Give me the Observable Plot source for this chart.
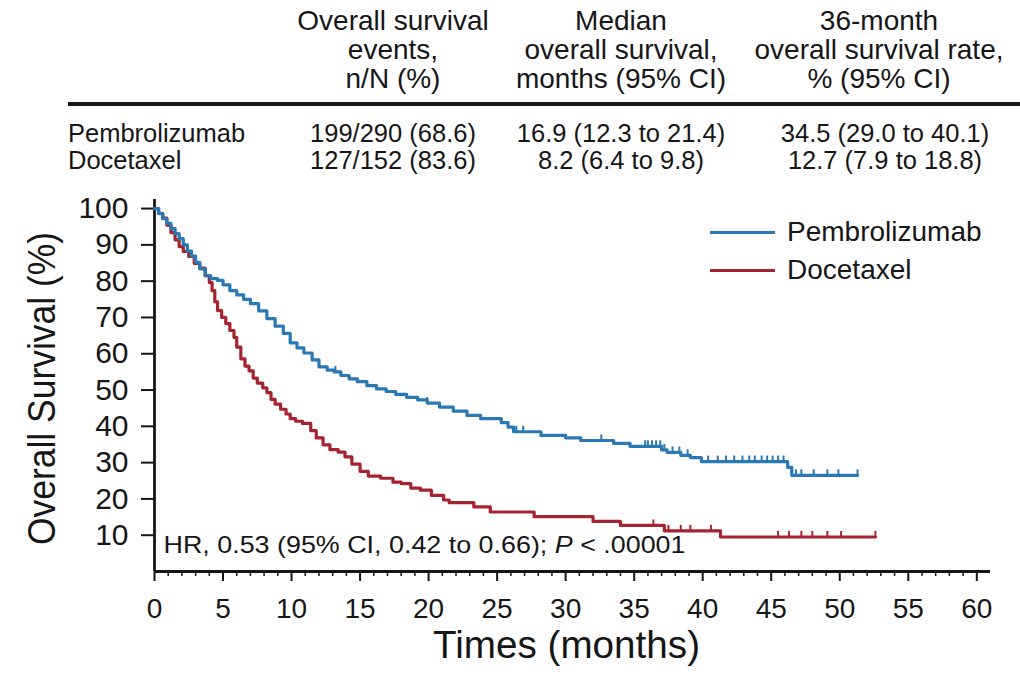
<!DOCTYPE html>
<html>
<head>
<meta charset="utf-8">
<script src="https://cdn.jsdelivr.net/npm/d3@7"></script>
<script src="https://cdn.jsdelivr.net/npm/@observablehq/plot@0.6"></script>
<style>
  html, body { margin: 0; padding: 0; background: #fff; }
  #wrap { position: relative; width: 1020px; height: 678px; overflow: hidden;
          font-family: "Liberation Sans", Arial, sans-serif; color: #161616; }
  #table { position: relative; height: 185px; }
  .hd { position: absolute; top: 6px; transform: translateX(-50%); text-align: center;
        font-size: 28px; line-height: 29px; white-space: nowrap; }
  .rule { position: absolute; left: 68px; right: 0; top: 102px; height: 4px; background: #161616; }
  .col { position: absolute; top: 120px; font-size: 25.5px; line-height: 27px; white-space: nowrap; }
  .col.c { transform: translateX(-50%); text-align: center; }
  #legend { position: absolute; left: 710px; top: 213px; font-size: 28px; }
  .lg { display: flex; align-items: center; height: 38px; }
  .sw { width: 65px; height: 3px; margin-right: 12px; }
</style>
</head>
<body>
<div id="wrap">
  <div id="table"></div>
  <div id="chart"></div>
  <div id="legend"></div>
</div>
<script>
// Summary table
const columnHeads = [
  ["Overall survival", "events,", "n/N (%)"],
  ["Median", "overall survival,", "months (95% CI)"],
  ["36-month", "overall survival rate,", "% (95% CI)"]
];
const arms = ["Pembrolizumab", "Docetaxel"];
const eventCounts = ["199/290 (68.6)", "127/152 (83.6)"];
const medianOS = ["16.9 (12.3 to 21.4)", "8.2 (6.4 to 9.8)"];
const rate36 = ["34.5 (29.0 to 40.1)", "12.7 (7.9 to 18.8)"];

// Kaplan-Meier step points (months, % surviving)
const pembroTime = [0,0.3,0.6,0.9,1.2,1.5,1.8,2.1,2.4,2.7,3.0,3.3,3.7,4.1,4.6,5.0,5.5,6.0,6.5,7.0,
  7.6,8.2,8.8,9.4,9.9,10.4,10.9,11.5,12.0,12.6,13.1,13.6,14.2,14.8,15.5,16.2,16.9,17.6,18.4,19.2,
  19.9,20.8,21.8,22.8,23.8,25.3,25.8,26.2,28.2,30.0,31.1,33.5,34.7,37.0,37.4,38.4,39.1,39.9,46.2,46.5,51.3];
const pembroSurv = [100,98.6,97.2,95.9,94.5,93.1,91.7,90.0,88.3,86.9,85.2,83.4,81.5,80.7,80.2,79.0,77.4,76.2,75.0,73.8,
  71.8,69.7,67.6,65.6,63.0,61.6,60.2,58.3,56.4,55.5,55.0,54.0,53.1,52.3,51.2,50.3,49.6,48.8,48.0,47.3,
  46.4,45.3,44.2,43.0,42.1,41.0,39.8,38.5,37.5,36.8,36.1,35.3,34.5,33.5,32.8,32.0,31.4,30.3,28.7,26.5,26.5];
const pembroCensored = [1.5,5.5,13.2,19.9,26.4,26.9,32.6,35.8,36.0,36.3,36.6,36.9,37.2,37.8,38.3,38.9,
  40.4,41.1,41.7,42.3,42.9,43.4,43.8,44.3,44.7,45.1,45.5,45.9,46.8,47.2,48.1,49.1,49.9,51.3];

const docetTime = [0,0.3,0.6,0.9,1.2,1.5,1.8,2.1,2.5,2.9,3.3,3.7,4.0,4.2,4.4,4.6,4.9,5.2,5.5,5.8,
  6.0,6.3,6.6,6.9,7.2,7.5,7.9,8.2,8.5,8.8,9.2,9.6,9.9,10.3,10.8,11.4,11.8,12.3,12.8,13.4,
  13.9,14.4,15.0,15.6,16.5,17.4,18.0,18.7,19.4,20.2,21.1,21.5,23.3,24.5,27.7,32.0,34.0,37.2,41.3,52.6];
const docetSurv = [100,98.7,97.4,95.4,93.4,91.4,89.5,88.2,86.8,84.9,83.6,81.5,79.6,77.4,74.3,71.9,70.0,68.3,66.4,64.5,
  61.8,58.6,56.6,55.3,53.3,51.9,50.6,49.3,47.4,46.1,44.7,43.4,42.1,41.4,40.8,38.8,36.8,34.9,33.6,32.9,
  31.6,29.6,27.6,26.3,25.7,24.6,24.2,23.0,22.4,21.0,19.7,19.0,17.8,16.4,15.1,13.8,12.7,11.2,9.5,9.5];
const docetCensored = [36.4,37.2,37.5,38.4,39.1,40.6,45.5,46.3,47.2,48.0,49.1,50.1,52.6];

const xMajorTicks = [0,5,10,15,20,25,30,35,40,45,50,55,60];
const yTicks = [10,20,30,40,50,60,70,80,90,100];
const xTitle = "Times (months)";
const yTitle = "Overall Survival (%)";
const hrLead = "HR, 0.53 (95% CI, 0.42 to 0.66); ";
const hrP = "P";
const hrTail = " < .00001";

const armColors = ["#2a78b4", "#a4242f"];

// ---- table ----
const table = document.getElementById("table");
const colCenters = [393, 621, 879];
columnHeads.forEach((lines, i) => {
  const d = document.createElement("div");
  d.className = "hd";
  d.style.left = colCenters[i] + "px";
  d.innerHTML = lines.map(s => `<div>${s}</div>`).join("");
  table.appendChild(d);
});
const rule = document.createElement("div");
rule.className = "rule";
table.appendChild(rule);
// one block per column, one line per arm
const bodyColumns = [arms, eventCounts, medianOS, rate36];
bodyColumns.forEach((values, c) => {
  const d = document.createElement("div");
  d.className = "col" + (c > 0 ? " c" : "");
  d.style.left = (c === 0 ? 68 : colCenters[c - 1] + (c === 3 ? 6 : 0)) + "px";
  d.innerHTML = values.join("<br>");
  table.appendChild(d);
});

// ---- legend ----
const legend = document.getElementById("legend");
arms.forEach((arm, i) => {
  const row = document.createElement("div");
  row.className = "lg";
  row.innerHTML = `<span class="sw" style="background:${armColors[i]}"></span><span>${arm}</span>`;
  legend.appendChild(row);
});

// ---- curves ----
const series = [
  {arm: arms[0], time: pembroTime, surv: pembroSurv, censored: pembroCensored},
  {arm: arms[1], time: docetTime, surv: docetSurv, censored: docetCensored}
];
const survivalAt = (s, t) => {
  let v = s.surv[0];
  for (let i = 0; i < s.time.length; ++i) if (s.time[i] <= t) v = s.surv[i];
  return v;
};
const steps = series.flatMap(s => s.time.map((t, i) => ({arm: s.arm, t, s: s.surv[i]})));
const censors = series.flatMap(s => s.censored.map(t => ({arm: s.arm, t, s: survivalAt(s, t)})));
// draw docetaxel first so pembrolizumab sits on top where the curves overlap
const order = [arms[1], arms[0]];
const byOrder = a => a.slice().sort((p, q) => order.indexOf(p.arm) - order.indexOf(q.arm));

// short upward spike used as the censoring mark
const censorTick = {
  draw(context, size) {
    const h = Math.sqrt(size / Math.PI) * 2;
    context.moveTo(0, 0);
    context.lineTo(0, -h);
  }
};

const xMinorTicks = d3.range(0, 61, 1).filter(v => v % 5 !== 0);
const yTitleLength = 313;

const chart = Plot.plot({
  width: 1020,
  height: 493,
  marginLeft: 154,
  marginRight: 30,
  marginTop: 14,
  marginBottom: 107,
  style: {fontFamily: '"Liberation Sans", Arial, sans-serif', color: "#161616", background: "#fff", overflow: "visible"},
  x: {domain: [0, 61], axis: null},
  y: {domain: [0, 102.5], axis: null},
  color: {domain: arms, range: armColors},
  marks: [
    Plot.axisY(yTicks, {tickSize: 13, tickPadding: 13, fontSize: 30, strokeWidth: 2, label: null}),
    Plot.axisX(xMajorTicks, {tickSize: 10, tickPadding: 17, fontSize: 28, strokeWidth: 2, label: null}),
    Plot.axisX(xMinorTicks, {tickSize: 5, strokeWidth: 1.5, tickFormat: () => "", label: null}),
    Plot.ruleX([0], {strokeWidth: 2.8}),
    Plot.ruleY([0], {strokeWidth: 2.8}),
    Plot.line(byOrder(steps), {x: "t", y: "s", z: "arm", stroke: "arm", curve: "step-after", strokeWidth: 3.2}),
    Plot.dot(byOrder(censors), {x: "t", y: "s", stroke: "arm", fill: "none", symbol: censorTick, r: 3, strokeWidth: 2}),
    // rotated title starts at its bottom end so the squeezed length stays centred on the frame
    Plot.text([yTitle], {frameAnchor: "left", dx: -112, dy: yTitleLength / 2 + 3, rotate: -90, textAnchor: "start", fontSize: 38}),
    Plot.text([xTitle], {frameAnchor: "bottom", dx: -6, dy: 86, fontSize: 38}),
    Plot.text([hrLead + hrP + hrTail], {frameAnchor: "bottom-left", dx: 9, dy: -19, textAnchor: "start", fontSize: 24})
  ]
});
document.getElementById("chart").appendChild(chart);

// squeeze the axis titles into a narrow, tall face and widen the note to its set length
const fitText = (content, length) =>
  d3.select(chart).selectAll("text")
    .filter(function () { return this.textContent === content; })
    .attr("textLength", length)
    .attr("lengthAdjust", "spacingAndGlyphs");
fitText(yTitle, yTitleLength);
fitText(xTitle, 267);

// italic P in the hazard-ratio note
fitText(hrLead + hrP + hrTail, 522)
  .each(function () {
    const t = d3.select(this).text(null);
    t.append("tspan").text(hrLead);
    t.append("tspan").attr("font-style", "italic").text(hrP);
    t.append("tspan").text(hrTail);
  });
</script>
</body>
</html>
